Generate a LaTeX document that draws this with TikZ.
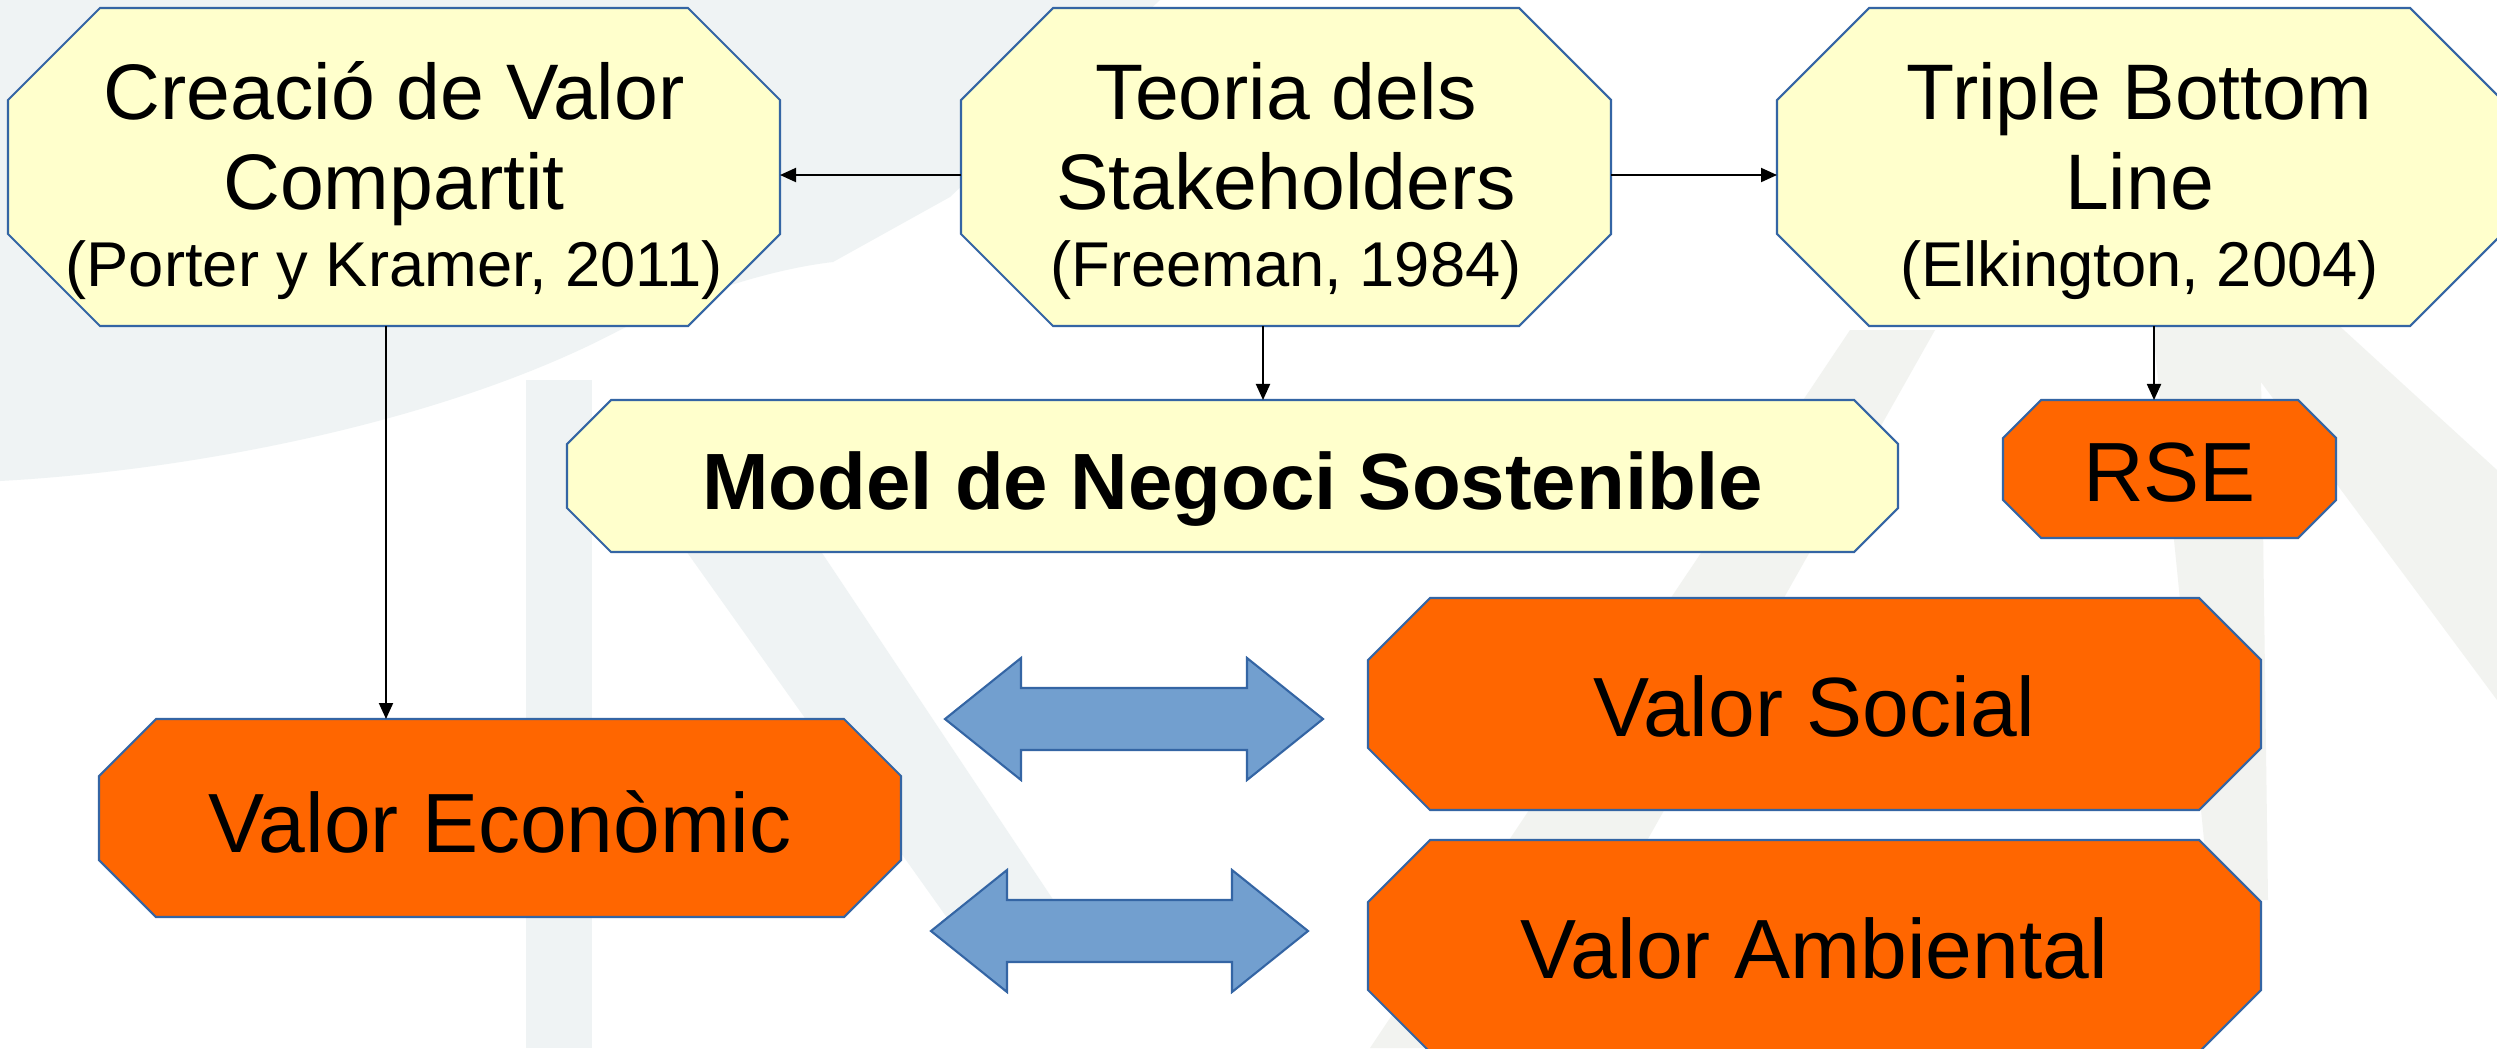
\documentclass[tikz,border=0pt]{standalone}
\usepackage{fontspec}
\setmainfont{Liberation Sans}
\usetikzlibrary{arrows.meta}

\definecolor{boxyellow}{HTML}{FFFFCC}
\definecolor{boxorange}{HTML}{FF6600}
\definecolor{boxline}{HTML}{3465A4}
\definecolor{arrowblue}{HTML}{729FCF}
\definecolor{wmleft}{HTML}{EFF3F4}
\definecolor{wmright}{HTML}{F2F3F0}

\pgfdeclarelayer{back}
\pgfsetlayers{back,main}

\newcommand\refsz{\fontsize{18}{21.6}\selectfont}

\tikzset{
  box/.style 2 args={rectangle, inner sep=0pt, outer sep=0pt,
    minimum width=#1*0.01cm, minimum height=#2*0.01cm},
  toptext/.style={align=center, inner sep=0pt, font=\fontsize{22.4}{25.6}\selectfont},
  valtext/.style={inner sep=0pt, font=\fontsize{23.9}{27.5}\selectfont},
  conn/.style={-{Triangle[length=0.16cm, width=0.14cm]}, line width=0.55pt},
}

\begin{document}
\begin{tikzpicture}[x=0.01cm, y=-0.01cm]
  \useasboundingbox (0,0) rectangle (2497,1048);

  % boxes (pixel grid, y pointing down)
  \node[box={772}{318}]  (cvc) at (394,167) {};
  \node[box={650}{318}]  (ts)  at (1286,167) {};
  \node[box={725}{318}]  (tbl) at (2139.5,167) {};
  \node[box={1331}{152}] (mns) at (1232.5,476) {};
  \node[box={333}{138}]  (rse) at (2169.5,469) {};
  \node[box={802}{198}]  (ve)  at (500,818) {};
  \node[box={893}{212}]  (vs)  at (1814.5,704) {};
  \node[box={893}{212}]  (va)  at (1814.5,946) {};

  \begin{pgfonlayer}{back}
    \fill[white] (0,0) rectangle (2497,1048);
    % watermark
    \fill[wmleft] (0,481) .. controls (200,470) and (450,420) .. (620,330)
      .. controls (700,290) and (780,268) .. (833,262) -- (950,197) -- (1160,0) -- (0,0) -- cycle;
    \fill[wmleft] (526,380) rectangle (592,1048);
    \fill[wmleft] (600,430) -- (740,430) -- (1080,940) -- (970,950) -- cycle;
    \fill[wmright] (1850,330) -- (1935,330) -- (1530,1048) -- (1370,1048) -- cycle;
    \fill[wmright] (2150,300) -- (2260,300) -- (2268,900) -- (2210,900) -- cycle;
    \fill[wmright] (2200,300) -- (2300,290) -- (2497,470) -- (2497,700) -- cycle;
    % octagons
    \foreach \n/\c/\col in {cvc/92/boxyellow, ts/92/boxyellow, tbl/92/boxyellow,
        mns/44/boxyellow, rse/38/boxorange, ve/57/boxorange, vs/62/boxorange, va/62/boxorange}
      \filldraw[fill=\col, draw=boxline, line width=0.6pt]
        ([shift={(\c,0)}]\n.north west) -- ([shift={(-\c,0)}]\n.north east)
        -- ([shift={(0,\c)}]\n.north east) -- ([shift={(0,-\c)}]\n.south east)
        -- ([shift={(-\c,0)}]\n.south east) -- ([shift={(\c,0)}]\n.south west)
        -- ([shift={(0,-\c)}]\n.south west) -- ([shift={(0,\c)}]\n.north west) -- cycle;
  \end{pgfonlayer}

  % texts
  \node[toptext] (cvc-t) at ([shift={(0,14)}]cvc.center)
    {Creació de Valor\\Compartit\\[-3.7pt]{\refsz (Porter y Kramer, 2011)}};
  \node[toptext] (ts-t) at ([shift={(0,14)}]ts.center)
    {Teoria dels\\Stakeholders\\[-3.7pt]{\refsz (Freeman, 1984)}};
  \node[toptext] (tbl-t) at ([shift={(0,14)}]tbl.center)
    {Triple Bottom\\Line\\[-3.7pt]{\refsz (Elkington, 2004)}};
  \node[inner sep=0pt, font=\fontsize{22.7}{27}\selectfont\bfseries] (mns-t)
    at ([shift={(0,13)}]mns.center) {Model de Negoci Sostenible};
  \node[valtext] (rse-t) at ([shift={(0,4)}]rse.center) {RSE};
  \node[valtext] (ve-t) at ([shift={(0,4)}]ve.center) {Valor Econòmic};
  \node[valtext] (vs-t) at ([shift={(0,2)}]vs.center) {Valor Social};
  \node[valtext] (va-t) at ([shift={(0,2.5)}]va.center) {Valor Ambiental};

  % connectors
  \draw[conn] ([shift={(0,8)}]ts.west) -- ([shift={(0,8)}]cvc.east);
  \draw[conn] ([shift={(0,8)}]ts.east) -- ([shift={(0,8)}]tbl.west);
  \draw[conn] ([shift={(-23,0)}]ts.south) -- ([shift={(30.5,0)}]mns.north);
  \draw[conn] ([shift={(-8,0)}]cvc.south) -- ([shift={(-114,0)}]ve.north);
  \draw[conn] ([shift={(14.5,0)}]tbl.south) -- ([shift={(-15.5,0)}]rse.north);

  % double arrows
  \foreach \xa/\xb/\yc in {945/1323/719, 931/1308/931}
    \filldraw[fill=arrowblue, draw=boxline, line width=0.6pt]
      (\xa,\yc) -- ({\xa+76},{\yc-61}) -- ({\xa+76},{\yc-31}) -- ({\xb-76},{\yc-31})
      -- ({\xb-76},{\yc-61}) -- (\xb,\yc) -- ({\xb-76},{\yc+61}) -- ({\xb-76},{\yc+31})
      -- ({\xa+76},{\yc+31}) -- ({\xa+76},{\yc+61}) -- cycle;
\end{tikzpicture}
\end{document}
